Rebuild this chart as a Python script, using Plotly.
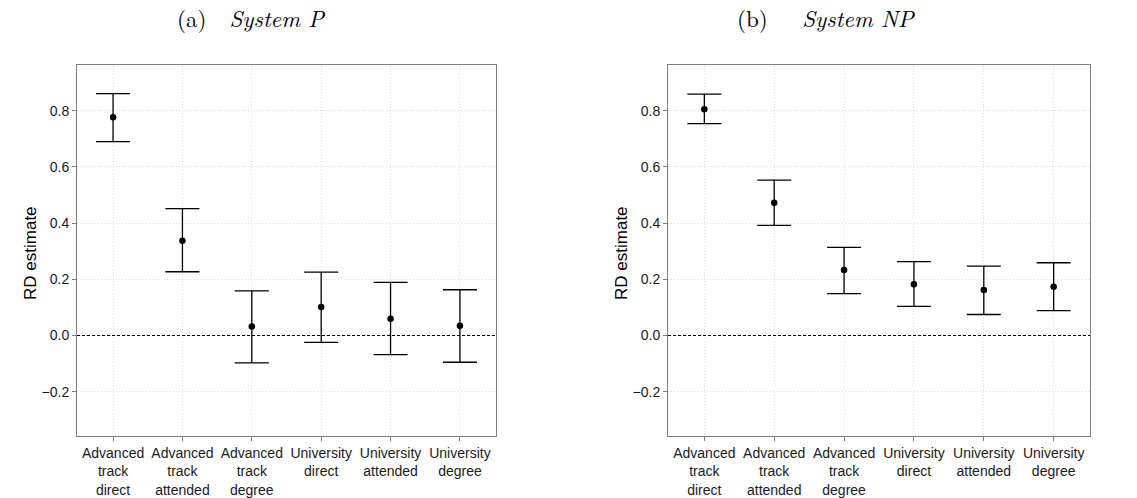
import plotly.graph_objects as go

categories = ["Advanced<br>track<br>direct", "Advanced<br>track<br>attended", "Advanced<br>track<br>degree",
              "University<br>direct", "University<br>attended", "University<br>degree"]

est_p = [0.777, 0.337, 0.032, 0.102, 0.060, 0.035]
upper_p = [0.861, 0.452, 0.159, 0.226, 0.189, 0.163]
lower_p = [0.690, 0.227, -0.097, -0.024, -0.068, -0.095]

est_np = [0.805, 0.473, 0.233, 0.183, 0.162, 0.174]
upper_np = [0.859, 0.553, 0.314, 0.263, 0.247, 0.259]
lower_np = [0.754, 0.392, 0.149, 0.104, 0.075, 0.089]

titles = ["(a)&nbsp;&nbsp;<i>System P</i>", "(b)&nbsp;&nbsp;&nbsp;<i>System NP</i>"]
ytitle = "RD estimate"

fig = go.Figure()

panels = [(est_p, upper_p, lower_p), (est_np, upper_np, lower_np)]
for i, (est, up, lo) in enumerate(panels):
    xa = "x" if i == 0 else "x2"
    ya = "y" if i == 0 else "y2"
    fig.add_trace(go.Scatter(
        x=categories, y=est, mode="markers", xaxis=xa, yaxis=ya,
        marker=dict(color="black", size=6.5),
        error_y=dict(type="data", symmetric=False,
                     array=[u - e for u, e in zip(up, est)],
                     arrayminus=[e - l for e, l in zip(est, lo)],
                     color="black", thickness=1.3, width=17),
        showlegend=False))
    fig.add_shape(type="line", xref=f"{xa} domain", yref=ya, x0=0, x1=1, y0=0, y1=0,
                  line=dict(color="black", width=1.1, dash="3px,2px"))

axis_common = dict(showline=True, linecolor="#7f7f7f", linewidth=1, mirror=True,
                   showgrid=True, gridcolor="#dcdcdc", griddash="1px,2px", gridwidth=1,
                   ticks="outside", ticklen=4, tickcolor="#7f7f7f",
                   tickfont=dict(family="Liberation Sans, Arial", size=14, color="#1a1a1a"),
                   zeroline=False)

ydom = [1 - 440 / 498, 1 - 66 / 498]
fig.update_layout(
    width=1137, height=498, margin=dict(l=0, r=0, t=0, b=0),
    plot_bgcolor="white", paper_bgcolor="white",
    xaxis=dict(domain=[77 / 1137, 496 / 1137], type="category", range=[-0.52, 5.52], **axis_common),
    xaxis2=dict(domain=[668 / 1137, 1090 / 1137], type="category", range=[-0.52, 5.52], **axis_common),
    yaxis=dict(domain=ydom, range=[-0.359, 0.961], tickvals=[-0.2, 0, 0.2, 0.4, 0.6, 0.8],
               tickformat=".1f", anchor="x", **axis_common),
    yaxis2=dict(domain=ydom, range=[-0.359, 0.961], tickvals=[-0.2, 0, 0.2, 0.4, 0.6, 0.8],
                tickformat=".1f", anchor="x2", **axis_common),
)

for cx in [31, 622]:
    fig.add_annotation(text=ytitle, xref="paper", yref="paper", x=cx / 1137, y=1 - 255 / 498,
                       showarrow=False, textangle=-90, xanchor="center", yanchor="middle",
                       font=dict(family="Liberation Sans, Arial", size=17, color="black"))

for t, cx in zip(titles, [251, 826]):
    fig.add_annotation(text=t, xref="paper", yref="paper", x=cx / 1137, y=1 - 18 / 498,
                       showarrow=False, xanchor="center", yanchor="middle",
                       font=dict(family="Latin Modern Roman, DejaVu Serif, Liberation Serif", size=23, color="black"))

fig.write_html("out.html")
